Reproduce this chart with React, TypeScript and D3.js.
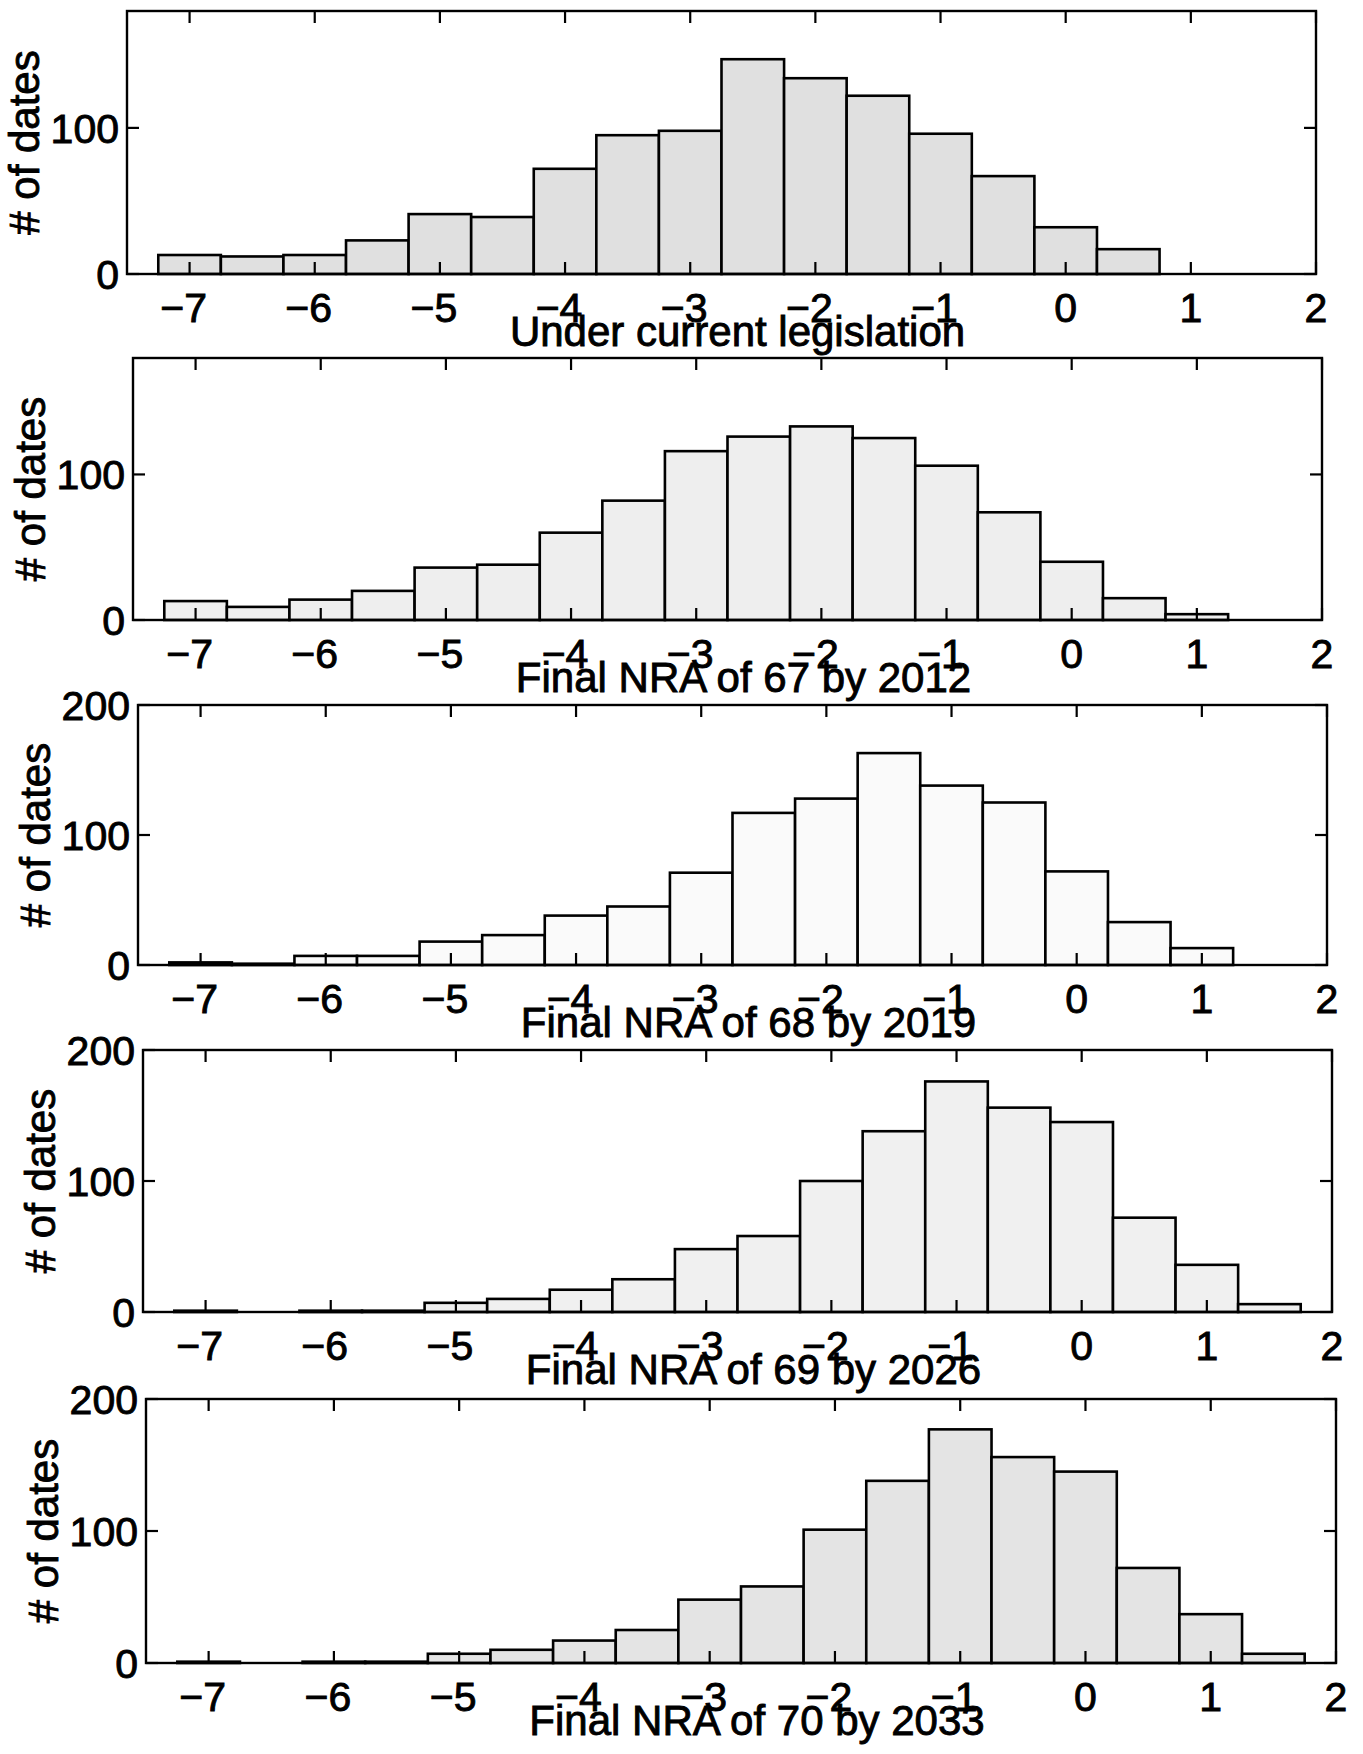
import React from "react";
import * as d3 from "d3";

// ---------- data ----------
const binCenters = [-7, -6.5, -6, -5.5, -5, -4.5, -4, -3.5, -3, -2.5, -2, -1.5, -1, -0.5, 0, 0.5, 1, 1.5];
const binWidth = 0.5;

const countsCurrent = [13, 12, 13, 23, 41, 39, 72, 95, 98, 147, 134, 122, 96, 67, 32, 17, 0, 0];
const countsNRA67by2012 = [13, 9, 14, 20, 36, 38, 60, 82, 116, 126, 133, 125, 106, 74, 40, 15, 4, 0];
const countsNRA68by2019 = [2, 1, 7, 7, 18, 23, 38, 45, 71, 117, 128, 163, 138, 125, 72, 33, 13, 0];
const countsNRA69by2026 = [1, 0, 1, 1, 7, 10, 17, 25, 48, 58, 100, 138, 176, 156, 145, 72, 36, 6];
const countsNRA70by2033 = [1, 0, 1, 1, 7, 10, 17, 25, 48, 58, 101, 138, 177, 156, 145, 72, 37, 7];

const panelTitles = [
  "Under current legislation",
  "Final NRA of 67 by 2012",
  "Final NRA of 68 by 2019",
  "Final NRA of 69 by 2026",
  "Final NRA of 70 by 2033",
];
const panelSeries = [countsCurrent, countsNRA67by2012, countsNRA68by2019, countsNRA69by2026, countsNRA70by2033];

const xDomain = [-7.5, 2];
const xTicks = [-7, -6, -5, -4, -3, -2, -1, 0, 1, 2];
const yMaxes = [180, 180, 200, 200, 200];
const yTicksShort = [0, 100];
const yTicksLong = [0, 100, 200];
const yLabel = "# of dates";

// ---------- layout / style ----------
const W = 1363;
const H = 1754;
const panelBoxes = [
  { left: 127, right: 1316, top: 11, bottom: 274 },
  { left: 133, right: 1322, top: 358, bottom: 620 },
  { left: 138, right: 1327, top: 705, bottom: 965 },
  { left: 143, right: 1332, top: 1050, bottom: 1312 },
  { left: 146, right: 1336, top: 1399, bottom: 1663 },
];
const panelFills = ["#e0e0e0", "#eeeeee", "#fafafa", "#f0f0f0", "#e4e4e4"];
const FONT = "'Liberation Sans', Arial, Helvetica, sans-serif";
const TICK_LEN = 12;
const TEXT_STROKE = 0.9;

function Panel({ idx }: { idx: number }) {
  const box = panelBoxes[idx];
  const values = panelSeries[idx];
  const x = d3.scaleLinear().domain(xDomain).range([box.left, box.right]);
  const y = d3.scaleLinear().domain([0, yMaxes[idx]]).range([box.bottom, box.top]);
  const yTicks = yMaxes[idx] >= 200 ? yTicksLong : yTicksShort;
  const fmt = (v: number) => (v < 0 ? "\u2212" + Math.abs(v) : String(v));
  const cx = (box.left + box.right) / 2 + 16;
  const textProps = { fontFamily: FONT, fill: "#000", stroke: "#000", strokeWidth: TEXT_STROKE };

  return (
    <g>
      {/* bars */}
      {binCenters.map((c, i) =>
        values[i] > 0 ? (
          <rect
            key={i}
            x={x(c - binWidth / 2)}
            y={y(values[i])}
            width={x(c + binWidth / 2) - x(c - binWidth / 2)}
            height={y(0) - y(values[i])}
            fill={panelFills[idx]}
            stroke="#000"
            strokeWidth={2.6}
          />
        ) : null
      )}
      {/* box */}
      <rect
        x={box.left}
        y={box.top}
        width={box.right - box.left}
        height={box.bottom - box.top}
        fill="none"
        stroke="#000"
        strokeWidth={2.4}
      />
      {/* x ticks (inside, top & bottom) */}
      {xTicks.map((t) => (
        <g key={"xt" + t}>
          <line x1={x(t)} x2={x(t)} y1={box.top} y2={box.top + TICK_LEN} stroke="#000" strokeWidth={2.2} />
          <line x1={x(t)} x2={x(t)} y1={box.bottom} y2={box.bottom - TICK_LEN} stroke="#000" strokeWidth={2.2} />
          <text x={x(t) - (t < 0 ? 6 : 0)} y={box.bottom + 48} textAnchor="middle" fontSize={41} {...textProps}>
            {fmt(t)}
          </text>
        </g>
      ))}
      {/* y ticks (inside, left & right) */}
      {yTicks.map((t) => (
        <g key={"yt" + t}>
          <line x1={box.left} x2={box.left + TICK_LEN} y1={y(t)} y2={y(t)} stroke="#000" strokeWidth={2.2} />
          <line x1={box.right} x2={box.right - TICK_LEN} y1={y(t)} y2={y(t)} stroke="#000" strokeWidth={2.2} />
          <text x={box.left - 8} y={y(t)} dy="0.36em" textAnchor="end" fontSize={41} {...textProps}>
            {t}
          </text>
        </g>
      ))}
      {/* y label */}
      <text
        transform={`translate(${box.left - 88},${(box.top + box.bottom) / 2}) rotate(-90)`}
        textAnchor="middle"
        fontSize={42}
        {...textProps}
      >
        {yLabel}
      </text>
      {/* x label */}
      <text x={cx} y={box.bottom + 72} textAnchor="middle" fontSize={42} {...textProps}>
        {panelTitles[idx]}
      </text>
    </g>
  );
}

export default function App() {
  return (
    <div style={{ position: "absolute", left: 0, top: 0, width: W, height: H, background: "#fff" }}>
      <svg width={W} height={H} viewBox={`0 0 ${W} ${H}`} style={{ display: "block" }}>
        <rect x={0} y={0} width={W} height={H} fill="#fff" />
        {panelSeries.map((_, i) => (
          <Panel key={i} idx={i} />
        ))}
      </svg>
    </div>
  );
}
